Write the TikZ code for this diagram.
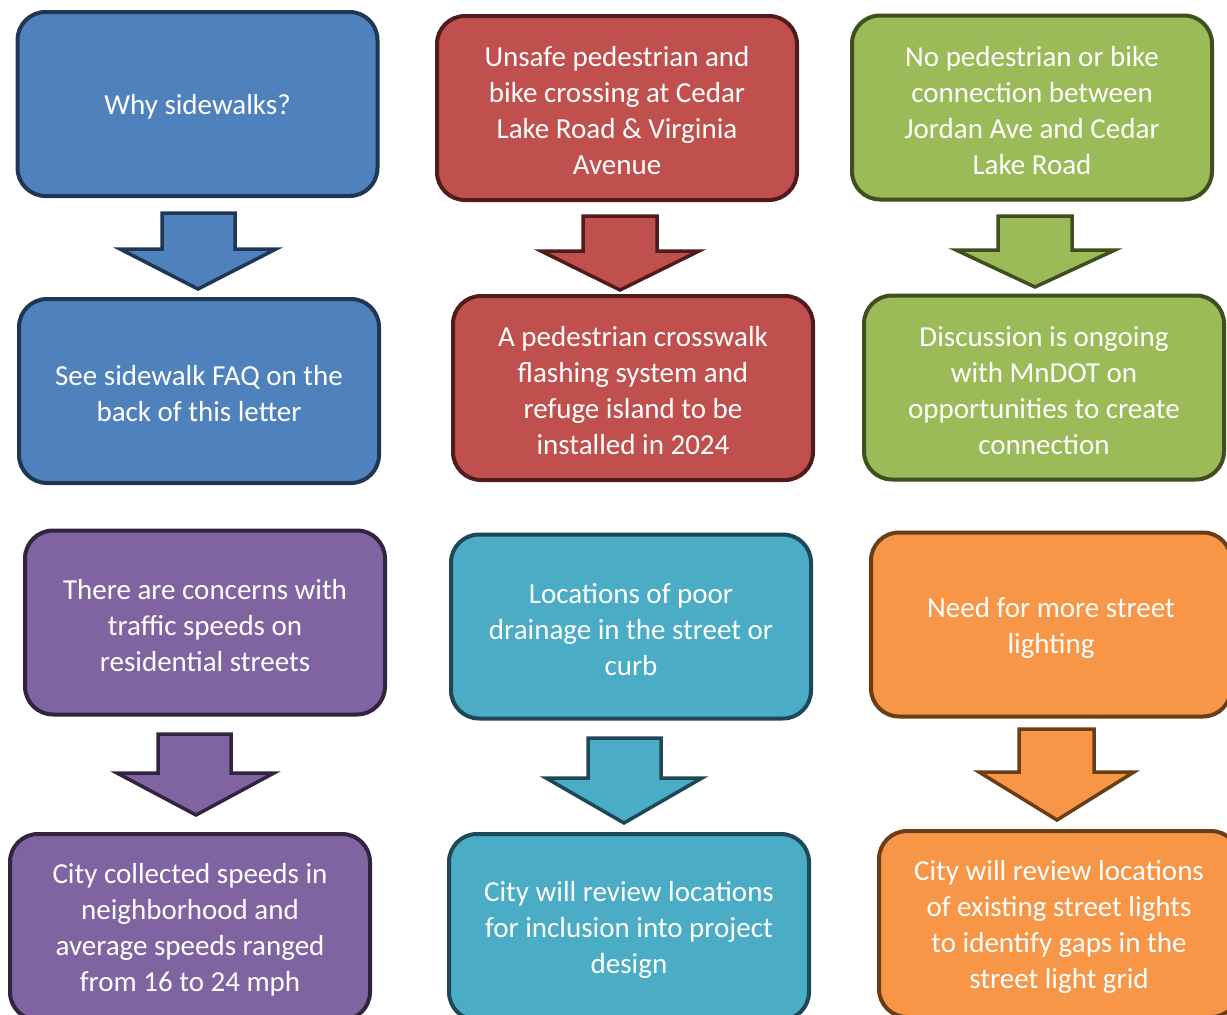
\documentclass[tikz,border=0pt]{standalone}
\usepackage{fontspec}
\setmainfont{Carlito}
\definecolor{bluefill}{HTML}{4F81BD}\definecolor{blueline}{HTML}{1F3753}
\definecolor{redfill}{HTML}{C0504D}\definecolor{redline}{HTML}{4F1C1B}
\definecolor{greenfill}{HTML}{9BBB59}\definecolor{greenline}{HTML}{3F4F1F}
\definecolor{purplefill}{HTML}{8064A2}\definecolor{purpleline}{HTML}{32243F}
\definecolor{tealfill}{HTML}{4BACC6}\definecolor{tealline}{HTML}{1E4855}
\definecolor{orangefill}{HTML}{F79646}\definecolor{orangeline}{HTML}{6A3D17}
\tikzset{
  box/.style={rectangle, rounded corners=28pt, line width=4pt, minimum width=360pt,
    minimum height=184pt, inner sep=0pt},
  txt/.style={inner sep=0pt, align=center, text=white,
    font=\fontsize{29}{36}\selectfont},
  blockarr/.style={line width=3.5pt, line join=miter},
  cblue/.style={fill=bluefill, draw=blueline},
  cred/.style={fill=redfill, draw=redline},
  cgreen/.style={fill=greenfill, draw=greenline},
  cpurple/.style={fill=purplefill, draw=purpleline},
  cteal/.style={fill=tealfill, draw=tealline},
  corange/.style={fill=orangefill, draw=orangeline},
}
% #1 style, #2 shaft left, #3 shaft right, #4 top, #5 head y, #6 head left, #7 head right, #8 tip x, #9 tip y
\newcommand\blockarrshape[9]{%
  \draw[blockarr,#1] (#2,#4) -- (#3,#4) -- (#3,#5) -- (#7,#5) -- (#8,#9) -- (#6,#5) -- (#2,#5) -- cycle;}
\newcommand\boxtext[2]{\node[txt] (#1t) at ([yshift=-3pt]#1.center) {#2};}
\begin{document}
\begin{tikzpicture}[x=1pt,y=-1pt]
\useasboundingbox (0,0) rectangle (1227,1015);
\clip (0,0) rectangle (1227,1015);
\node[box,cblue] (b1) at (197.5,104) {};
\node[box,cred] (b2) at (617,108) {};
\node[box,cgreen] (b3) at (1032,107.5) {};
\node[box,cblue] (b4) at (199,391) {};
\node[box,cred] (b5) at (633,388) {};
\node[box,cgreen] (b6) at (1044,387.5) {};
\node[box,cpurple] (b7) at (205,622.5) {};
\node[box,cteal] (b8) at (631,626.5) {};
\node[box,corange] (b9) at (1051,624.5) {};
\node[box,cpurple,minimum height=186pt] (b10) at (190,927) {};
\node[box,cteal,minimum height=186pt] (b11) at (629,927) {};
\node[box,corange,minimum height=186pt] (b12) at (1059,924) {};
\boxtext{b1}{Why sidewalks?}
\boxtext{b2}{Unsafe pedestrian and\\bike crossing at Cedar\\Lake Road \& Virginia\\Avenue}
\boxtext{b3}{No pedestrian or bike\\connection between\\Jordan Ave and Cedar\\Lake Road}
\boxtext{b4}{See sidewalk FAQ on the\\back of this letter}
\boxtext{b5}{A pedestrian crosswalk\\flashing system and\\refuge island to be\\installed in 2024}
\boxtext{b6}{Discussion is ongoing\\with MnDOT on\\opportunities to create\\connection}
\boxtext{b7}{There are concerns with\\traffic speeds on\\residential streets}
\boxtext{b8}{Locations of poor\\drainage in the street or\\curb}
\boxtext{b9}{Need for more street\\lighting}
\boxtext{b10}{City collected speeds in\\neighborhood and\\average speeds ranged\\from 16 to 24 mph}
\boxtext{b11}{City will review locations\\for inclusion into project\\design}
\boxtext{b12}{City will review locations\\of existing street lights\\to identify gaps in the\\street light grid}
\blockarrshape{cblue}{162}{235}{213}{249}{120}{276}{198}{289}
\blockarrshape{cred}{583}{657}{216}{251}{541}{699}{620}{290}
\blockarrshape{cgreen}{998}{1072}{216}{250}{956}{1115}{1035}{287}
\blockarrshape{cpurple}{158}{231}{734}{773}{117}{274}{196}{815}
\blockarrshape{cteal}{588}{661}{738}{778}{546}{702}{624}{823}
\blockarrshape{corange}{1019}{1094}{729}{772}{979}{1134}{1057}{820}
\end{tikzpicture}
\end{document}
